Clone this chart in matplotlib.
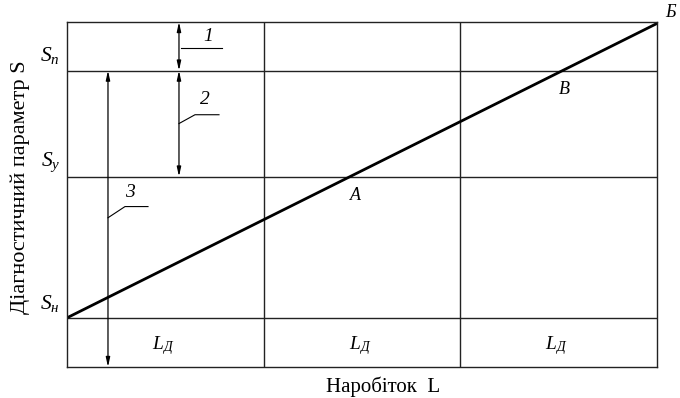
import numpy as np
import matplotlib
matplotlib.use("Agg")
from matplotlib import pyplot as plt

plt.rcParams['font.family'] = ['Liberation Serif', 'DejaVu Serif']
plt.rcParams['mathtext.fontset'] = 'custom'
plt.rcParams['mathtext.rm'] = 'Liberation Serif'
plt.rcParams['mathtext.it'] = 'Liberation Serif:italic'

# data: wear line over three diagnostic intervals
run_L = [0.0, 3.0]          # наробіток, in units of L_Д
param_S = [0.0, 1.0]        # S from S_н to Б
S_levels = [0.0, 0.48, 0.84]   # S_н, S_y, S_п
S_names = ['$S_н$', '$S_у$', '$S_п$']
interval_labels = ['$L_Д$', '$L_Д$', '$L_Д$']
S_bottom = -0.167
S_top = 1.005

fig = plt.figure(figsize=(6.8, 3.98), dpi=100)
ax = fig.add_axes([0.0985, 0.0779, 0.8676, 0.8668])
ax.set_xlim(run_L[0], run_L[-1])
ax.set_ylim(S_bottom, S_top)
ax.set_xticks([])
ax.set_yticks([])
for sp in ax.spines.values():
    sp.set_linewidth(1.0)
    sp.set_color('#222222')

# grid lines
for k in range(1, len(interval_labels)):
    ax.axvline(k, color='#222222', lw=1.0)
for s in S_levels:
    ax.axhline(s, color='#222222', lw=1.0)

# main line
ax.plot(run_L, param_S, color='black', lw=2.0, solid_capstyle='round')

# points A and B on the line
L_A = np.interp(S_levels[1], param_S, run_L)
L_B = np.interp(S_levels[2], param_S, run_L)
ax.text(L_A + 0.025, S_levels[1] - 0.035, 'A', fontsize=13, style='italic', ha='center', va='top')
ax.text(L_B + 0.01, S_levels[2] - 0.035, 'B', fontsize=13, style='italic', ha='center', va='top')
ax.text(run_L[-1] + 0.04, param_S[-1] + 0.01, 'Б', fontsize=13, style='italic', ha='left', va='bottom')

# level labels on the left
for s, name in zip(S_levels, S_names):
    ax.text(-0.035, s + 0.05, name, fontsize=15.5, ha='right', va='center')

# interval labels
for k, lab in enumerate(interval_labels):
    ax.text(k + 0.49, (S_levels[0] + S_bottom) / 2 - 0.01, lab, fontsize=14, ha='center', va='center')

# dimension arrows
aprops = dict(arrowstyle='<|-|>,head_length=0.55,head_width=0.12', color='black', lw=0.9,
              shrinkA=0, shrinkB=0)
ax.annotate('', xy=(0.5695, S_top), xytext=(0.5695, S_levels[2]), arrowprops=aprops)
ax.annotate('', xy=(0.5695, S_levels[2]), xytext=(0.5695, S_levels[1]), arrowprops=aprops)
ax.annotate('', xy=(0.2085, S_levels[2]), xytext=(0.2085, S_bottom), arrowprops=aprops)

# leaders with numbers
ax.plot([0.58, 0.788], [0.918, 0.918], color='black', lw=0.8)
ax.text(0.72, 0.955, '1', fontsize=14, style='italic', ha='center', va='center')
ax.plot([0.5695, 0.651, 0.773], [0.66, 0.690, 0.690], color='black', lw=0.8)
ax.text(0.70, 0.741, '2', fontsize=14, style='italic', ha='center', va='center')
ax.plot([0.2085, 0.295, 0.412], [0.340, 0.378, 0.378], color='black', lw=0.8)
ax.text(0.32, 0.425, '3', fontsize=14, style='italic', ha='center', va='center')

ax.set_xlabel('Наробіток  L', fontsize=15, va='center')
ax.xaxis.set_label_coords(0.535, -0.057)
ax.set_ylabel('Діагностичний параметр S', fontsize=16, va='center')
ax.yaxis.set_label_coords(-0.08, 0.52)

fig.savefig('out.png', dpi=100)
